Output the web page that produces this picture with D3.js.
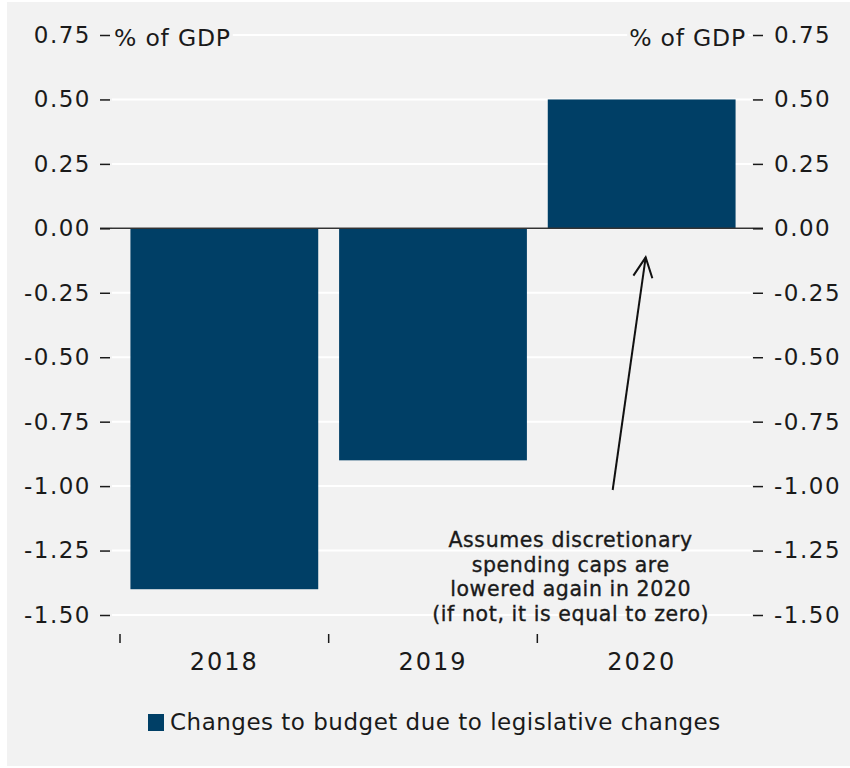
<!DOCTYPE html>
<html>
<head>
<meta charset="utf-8">
<script src="https://cdn.jsdelivr.net/npm/d3@7"></script>
<style>
  html, body { margin: 0; padding: 0; background: #ffffff; }
  svg { display: block; }
  text { font-family: "DejaVu Sans", sans-serif; fill: #1a1a1a; }
</style>
</head>
<body>
<svg id="chart" width="850" height="768"></svg>
<script>
// Budget changes by year, % of GDP
const years = ["2018", "2019", "2020"];
const values = [-1.40, -0.90, 0.50];
const yTicks = [0.75, 0.50, 0.25, 0.00, -0.25, -0.50, -0.75, -1.00, -1.25, -1.50];
const unitLabel = "% of GDP";
const seriesName = "Changes to budget due to legislative changes";
const noteLines = [
  "Assumes discretionary",
  "spending caps are",
  "lowered again in 2020",
  "(if not, it is equal to zero)"
];
const noteYear = "2020";

const barColor = "#003f66";
const svg = d3.select("#chart");

// panel background
svg.append("rect").attr("x", 7).attr("y", 2).attr("width", 843).attr("height", 764)
  .attr("fill", "#f2f2f2");

const y = d3.scaleLinear().domain([-1.5, 0.75]).range([615, 35]);
const x = d3.scaleBand().domain(years).range([120, 746])
  .paddingInner(0.1).paddingOuter(0.05);

// white gridlines
svg.append("g").selectAll("line").data(yTicks).join("line")
  .attr("x1", 112).attr("x2", 752)
  .attr("y1", d => y(d)).attr("y2", d => y(d))
  .attr("stroke", "#ffffff").attr("stroke-width", 2);

// unit labels (with panel-coloured backing so gridline stops at the text)
const unitL = svg.append("text").attr("x", 114).attr("y", y(0.75) + 11)
  .attr("font-size", 23.5).attr("letter-spacing", 0.8).text(unitLabel);
const unitR = svg.append("text").attr("x", 746).attr("y", y(0.75) + 11)
  .attr("text-anchor", "end").attr("font-size", 23.5).attr("letter-spacing", 0.8).text(unitLabel);
[unitL, unitR].forEach(t => {
  const b = t.node().getBBox();
  svg.insert("rect", () => t.node())
    .attr("x", b.x - 2).attr("y", y(0.75) - 3).attr("width", b.width + 4).attr("height", 6)
    .attr("fill", "#f2f2f2");
});

// bars
svg.append("g").selectAll("rect").data(years).join("rect")
  .attr("x", d => x(d))
  .attr("width", x.bandwidth())
  .attr("y", (d, i) => y(Math.max(0, values[i])))
  .attr("height", (d, i) => Math.abs(y(values[i]) - y(0)))
  .attr("fill", barColor);

// zero line
svg.append("line").attr("x1", 100).attr("x2", 763)
  .attr("y1", y(0)).attr("y2", y(0))
  .attr("stroke", "#333333").attr("stroke-width", 1.5);

// left and right value axes
const fmt = d => d3.format(".2f")(d).replace("\u2212", "-");
const styleAxis = g => {
  g.select(".domain").remove();
  g.selectAll(".tick line").attr("stroke", "#1a1a1a").attr("stroke-width", 1.5);
  g.selectAll(".tick text").attr("font-size", 23).attr("fill", "#1a1a1a")
    .attr("letter-spacing", 1.5)
    .attr("font-family", "DejaVu Sans, sans-serif");
};
svg.append("g").attr("transform", "translate(110,0)")
  .call(d3.axisLeft(y).tickValues(yTicks).tickFormat(fmt).tickSize(10).tickPadding(9))
  .call(styleAxis);
svg.append("g").attr("transform", "translate(753,0)")
  .call(d3.axisRight(y).tickValues(yTicks).tickFormat(fmt).tickSize(10).tickPadding(11))
  .call(styleAxis);

// category axis: ticks at the left edge of each category slot, labels centred
const slotStart = d => x(d) - x.step() * x.paddingOuter();
svg.append("g").selectAll("line").data(years).join("line")
  .attr("x1", slotStart).attr("x2", slotStart)
  .attr("y1", 634).attr("y2", 643)
  .attr("stroke", "#1a1a1a").attr("stroke-width", 1.5);
svg.append("g").selectAll("text").data(years).join("text")
  .attr("x", d => x(d) + x.bandwidth() / 2)
  .attr("y", 670)
  .attr("text-anchor", "middle").attr("font-size", 24).attr("letter-spacing", 2)
  .text(d => d);

// annotation
const noteX = x(noteYear) + x.bandwidth() / 2 - 71;
svg.append("g").selectAll("text").data(noteLines).join("text")
  .attr("x", noteX).attr("y", (d, i) => 547 + i * 24.5)
  .attr("text-anchor", "middle").attr("font-size", 20.5).attr("letter-spacing", 0.6)
  .attr("stroke", "#1a1a1a").attr("stroke-width", 0.35)
  .text(d => d);

// arrow from note to the 2020 bar
const tipX = x(noteYear) + x.bandwidth() / 2 + 4;
const tipY = y(0) + 29;
const tailX = tipX - 33, tailY = 490;
const arrow = svg.append("g").attr("stroke", "#111111").attr("stroke-width", 2).attr("fill", "none");
arrow.append("line").attr("x1", tailX).attr("y1", tailY).attr("x2", tipX).attr("y2", tipY);
const ang = Math.atan2(tipY - tailY, tipX - tailX);
const headLen = 22, spread = 0.45;
arrow.append("path").attr("d", d3.line()([
  [tipX - headLen * Math.cos(ang - spread), tipY - headLen * Math.sin(ang - spread)],
  [tipX, tipY],
  [tipX - headLen * Math.cos(ang + spread), tipY - headLen * Math.sin(ang + spread)]
]));

// legend
svg.append("rect").attr("x", 148).attr("y", 714).attr("width", 16).attr("height", 17)
  .attr("fill", barColor);
svg.append("text").attr("x", 170).attr("y", 730).attr("font-size", 23).attr("letter-spacing", 0.5)
  .text(seriesName);
</script>
</body>
</html>
